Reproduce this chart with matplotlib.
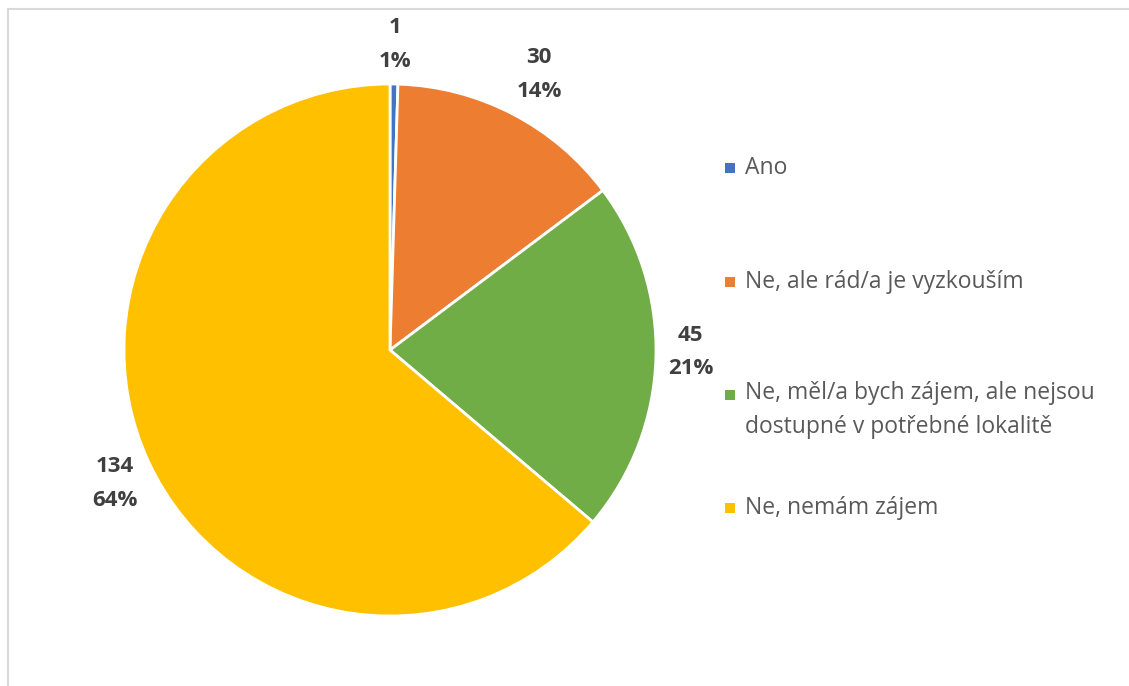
import matplotlib

matplotlib.use("Agg")
import numpy as np
import matplotlib.pyplot as plt
from matplotlib.lines import Line2D
from matplotlib.patches import Rectangle

plt.rcParams["font.family"] = ["Open Sans", "DejaVu Sans"]

categories = [
    "Ano",
    "Ne, ale rád/a je vyzkouším",
    "Ne, měl/a bych zájem, ale nejsou\ndostupné v potřebné lokalitě",
    "Ne, nemám zájem",
]
values = [1, 30, 45, 134]
pct_labels = ["1%", "14%", "21%", "64%"]
colors = ["#4472c4", "#ed7d31", "#70ad47", "#ffc000"]

W, H = 1129, 686
fig = plt.figure(figsize=(W / 100, H / 100), dpi=100)

# chart-area border (top and left edges visible)
fig.add_artist(Line2D([8 / W, 1.0], [1 - 9 / H, 1 - 9 / H], color="#d9d9d9", lw=1.5))
fig.add_artist(Line2D([8 / W, 8 / W], [0, 1 - 9 / H], color="#d9d9d9", lw=1.5))

cx, cy, r = 390, 350, 266
ax = fig.add_axes([(cx - r) / W, (H - cy - r) / H, 2 * r / W, 2 * r / H])
labels = [f"{v}\n{p}" for v, p in zip(values, pct_labels)]
wedges, texts = ax.pie(values, colors=colors, startangle=90, counterclock=False,
                       labels=labels, labeldistance=1.1,
                       wedgeprops=dict(edgecolor="white", linewidth=2))
ax.set_xlim(-1, 1)
ax.set_ylim(-1, 1)
ax.set_aspect("equal")
ax.axis("off")
for t in texts:
    t.set_ha("center")
    t.set_va("center")
    t.set_fontsize(16)
    t.set_fontweight("bold")
    t.set_color("#404040")
    t.set_linespacing(1.8)

# place data labels just outside the rim, like "outside end" labels
fig.canvas.draw()
renderer = fig.canvas.get_renderer()
gap = 12
for w, t in zip(wedges, texts):
    th = np.deg2rad((w.theta1 + w.theta2) / 2)
    ux, uy = np.cos(th), np.sin(th)
    bb = t.get_window_extent(renderer)
    hw, hh = bb.width / 2, bb.height / 2
    px = (r + gap) * ux + hw * np.clip(2 * ux, -1, 1)
    py = (r + gap) * uy + hh * np.clip(2 * uy, -1, 1) + 8 * (1 - uy ** 2)
    t.set_position((px / r, py / r))

# legend
row_y = [168, 282, 395, 508]
for cat, col, y in zip(categories, colors, row_y):
    fig.add_artist(Rectangle((725 / W, 1 - (y + 5) / H), 10 / W, 10 / H,
                             facecolor=col, edgecolor="none"))
    fig.text(745 / W, 1 - (y - 14) / H if "\n" in cat else 1 - y / H, cat,
             ha="left", va="top" if "\n" in cat else "center",
             fontsize=16.5, color="#595959", linespacing=1.55)

fig.savefig("out.png", dpi=100)
